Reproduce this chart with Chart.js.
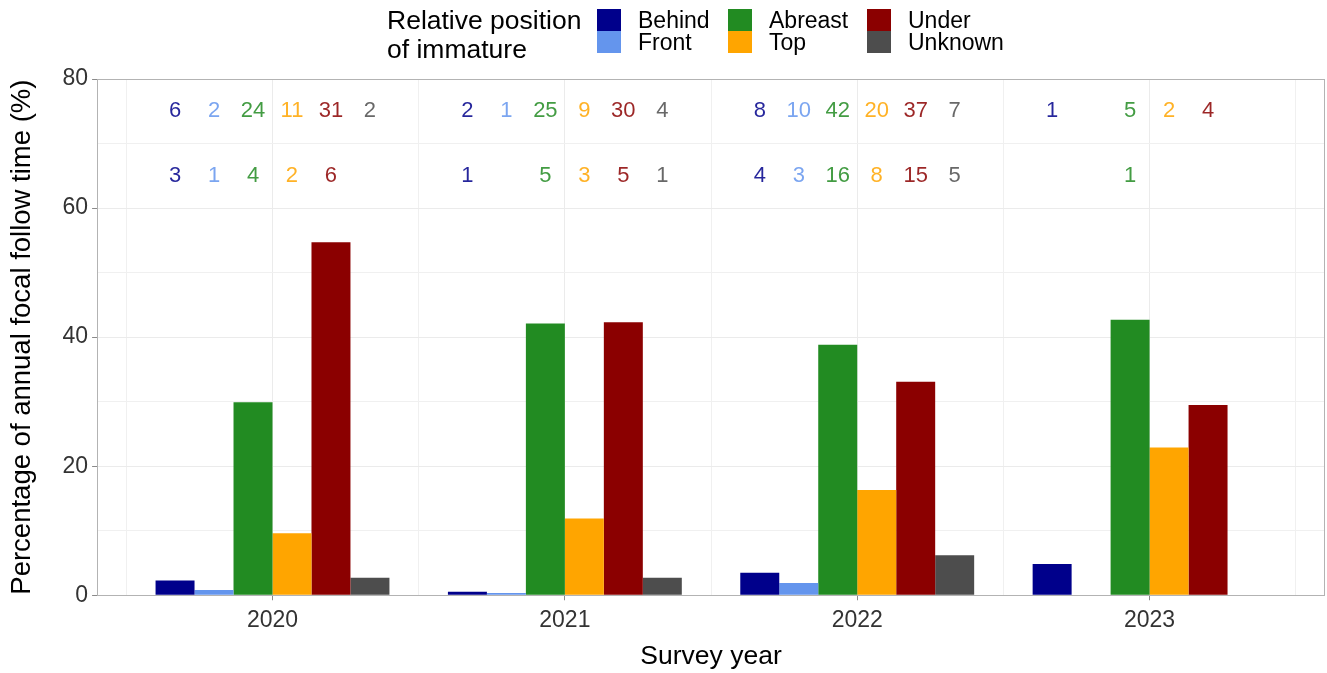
<!DOCTYPE html>
<html><head><meta charset="utf-8">
<script src="https://cdn.jsdelivr.net/npm/chart.js@4.4.1/dist/chart.umd.min.js"></script>
<style>
html,body{margin:0;padding:0;background:#fff;}
#wrap{position:relative;width:1327px;height:673px;overflow:hidden;}
canvas{position:absolute;left:0;top:0;}
#legend{position:absolute;left:387px;top:0;display:flex;align-items:flex-start;font-family:"Liberation Sans",Arial,sans-serif;color:#000;}
#legend .ltitle{font-size:26.5px;line-height:29px;width:210px;padding-top:6px;}
#legend .lgrid{display:grid;grid-template-rows:22px 22px;grid-auto-flow:column;grid-template-columns:131px 139px auto;margin-top:9px;}
#legend .item{display:flex;align-items:center;height:22px;font-size:23px;white-space:nowrap;}
#legend .key{width:24px;height:22px;margin-right:17px;flex:none;}
</style></head>
<body>
<div id="wrap">
<canvas id="c" width="1327" height="673"></canvas>
<div id="legend"><div class="ltitle">Relative position<br>of immature</div><div class="lgrid" id="lgrid"></div></div>
</div>
<script>
// ---- data ----
const years = [2020, 2021, 2022, 2023];
const positions = ['Behind', 'Front', 'Abreast', 'Top', 'Under', 'Unknown'];
const colors = ['#00008B', '#6495ED', '#228B22', '#FFA500', '#8B0000', '#4D4D4D'];
const textColors = ['rgba(0,0,139,0.85)', 'rgba(100,149,237,0.85)', 'rgba(34,139,34,0.85)', 'rgba(255,165,0,0.85)', 'rgba(139,0,0,0.85)', 'rgba(77,77,77,0.85)'];

// percentage of annual focal follow time
const pctBehind  = [2.3, 0.55, 3.5, 4.85];
const pctFront   = [0.8, 0.35, 1.9, null];
const pctAbreast = [29.9, 42.1, 38.8, 42.7];
const pctTop     = [9.6, 11.9, 16.3, 22.9];
const pctUnder   = [54.7, 42.3, 33.1, 29.5];
const pctUnknown = [2.7, 2.7, 6.2, null];

// counts, upper row
const nUpperBehind  = [6, 2, 8, 1];
const nUpperFront   = [2, 1, 10, null];
const nUpperAbreast = [24, 25, 42, 5];
const nUpperTop     = [11, 9, 20, 2];
const nUpperUnder   = [31, 30, 37, 4];
const nUpperUnknown = [2, 4, 7, null];

// counts, lower row
const nLowerBehind  = [3, 1, 4, null];
const nLowerFront   = [1, null, 3, null];
const nLowerAbreast = [4, 5, 16, 1];
const nLowerTop     = [2, 3, 8, null];
const nLowerUnder   = [6, 5, 15, null];
const nLowerUnknown = [null, 1, 5, null];

const yTicksLabelled = [0, 20, 40, 60, 80];

const pctSeries = [pctBehind, pctFront, pctAbreast, pctTop, pctUnder, pctUnknown];
const upperSeries = [nUpperBehind, nUpperFront, nUpperAbreast, nUpperTop, nUpperUnder, nUpperUnknown];
const lowerSeries = [nLowerBehind, nLowerFront, nLowerAbreast, nLowerTop, nLowerUnder, nLowerUnknown];

const FONT = '"Liberation Sans", Arial, sans-serif';
Chart.defaults.font.family = FONT;

const datasets = positions.map((p, k) => ({
  label: p,
  data: years.map((yr, i) => ({ x: yr, y: pctSeries[k][i] })),
  backgroundColor: colors[k],
  borderWidth: 0,
  categoryPercentage: 0.8,
  barPercentage: 1.0,
  upper: upperSeries[k],
  lower: lowerSeries[k],
  textColor: textColors[k]
}));

const countLabels = {
  id: 'countLabels',
  afterDatasetsDraw(chart, args, opts) {
    const ctx = chart.ctx, ys = chart.scales.y;
    ctx.save();
    ctx.font = opts.size + 'px ' + FONT;
    ctx.textAlign = 'center';
    ctx.textBaseline = 'middle';
    chart.data.datasets.forEach((ds, d) => {
      const meta = chart.getDatasetMeta(d);
      meta.data.forEach((el, i) => {
        [[ds.upper, opts.rowValues[0]], [ds.lower, opts.rowValues[1]]].forEach(([arr, yv]) => {
          const v = arr[i];
          if (v === null || v === undefined) return;
          ctx.fillStyle = ds.textColor;
          ctx.fillText(String(v), el.x, ys.getPixelForValue(yv));
        });
      });
    });
    ctx.restore();
  }
};

const panelBorder = {
  id: 'panelBorder',
  afterDatasetsDraw(chart, args, opts) {
    const a = chart.chartArea, ctx = chart.ctx;
    ctx.save();
    ctx.strokeStyle = opts.color;
    ctx.lineWidth = 1;
    ctx.strokeRect(Math.round(a.left) + 0.5, Math.round(a.top) + 0.5, Math.round(a.right - a.left) - 1, Math.round(a.bottom - a.top));
    ctx.restore();
  }
};

const chart = new Chart(document.getElementById('c'), {
  type: 'bar',
  data: { datasets },
  options: {
    responsive: false,
    animation: false,
    devicePixelRatio: 1,
    layout: { padding: { top: 79, right: 2, bottom: 2, left: 0 } },
    plugins: {
      legend: { display: false },
      tooltip: { enabled: false },
      countLabels: { rowValues: [75, 65], size: 22 },
      panelBorder: { color: '#b3b3b3' }
    },
    scales: {
      x: {
        type: 'linear',
        offset: false,
        min: years[0] - 0.6,
        max: years[years.length - 1] + 0.6,
        afterBuildTicks: s => { s.ticks = years.map(v => ({ value: v })); },
        ticks: { callback: v => String(v), color: '#333333', font: { size: 23 }, padding: 7, autoSkip: false, maxRotation: 0 },
        grid: { offset: false, color: '#ebebeb', lineWidth: 1, tickLength: 5, tickColor: '#8a8a8a' },
        border: { display: false },
        title: { display: true, text: 'Survey year', color: '#000', font: { size: 26.5, lineHeight: 1.1 }, padding: { top: 0, bottom: 0 } }
      },
      xMinor: {
        type: 'linear',
        position: 'bottom',
        offset: false,
        min: years[0] - 0.6,
        max: years[years.length - 1] + 0.6,
        afterBuildTicks: s => { s.ticks = years.map(v => ({ value: v - 0.5 })).concat([{ value: years[years.length - 1] + 0.5 }]); },
        ticks: { display: false },
        grid: { offset: false, color: '#f0f0f0', lineWidth: 1, drawTicks: false },
        border: { display: false }
      },
      y: {
        min: 0,
        max: 80,
        ticks: { stepSize: 10, callback: v => (yTicksLabelled.includes(v) ? String(v) : ''), color: '#333333', font: { size: 23 }, padding: 4 },
        grid: {
          color: c => (c.tick && yTicksLabelled.includes(c.tick.value) ? '#ebebeb' : '#f0f0f0'),
          lineWidth: 1, tickLength: 5,
          tickColor: c => (c.tick && yTicksLabelled.includes(c.tick.value) ? '#8a8a8a' : 'rgba(0,0,0,0)')
        },
        border: { display: false },
        title: { display: true, text: 'Percentage of annual focal follow time (%)', color: '#000', font: { size: 27.5, lineHeight: 1 }, padding: { top: 9, bottom: 22 } }
      }
    }
  },
  plugins: [countLabels, panelBorder]
});

// HTML legend from chart datasets
const lg = document.getElementById('lgrid');
chart.data.datasets.forEach(ds => {
  const it = document.createElement('div'); it.className = 'item';
  const k = document.createElement('span'); k.className = 'key'; k.style.background = ds.backgroundColor;
  const t = document.createElement('span'); t.textContent = ds.label;
  it.appendChild(k); it.appendChild(t); lg.appendChild(it);
});
</script>
</body></html>
